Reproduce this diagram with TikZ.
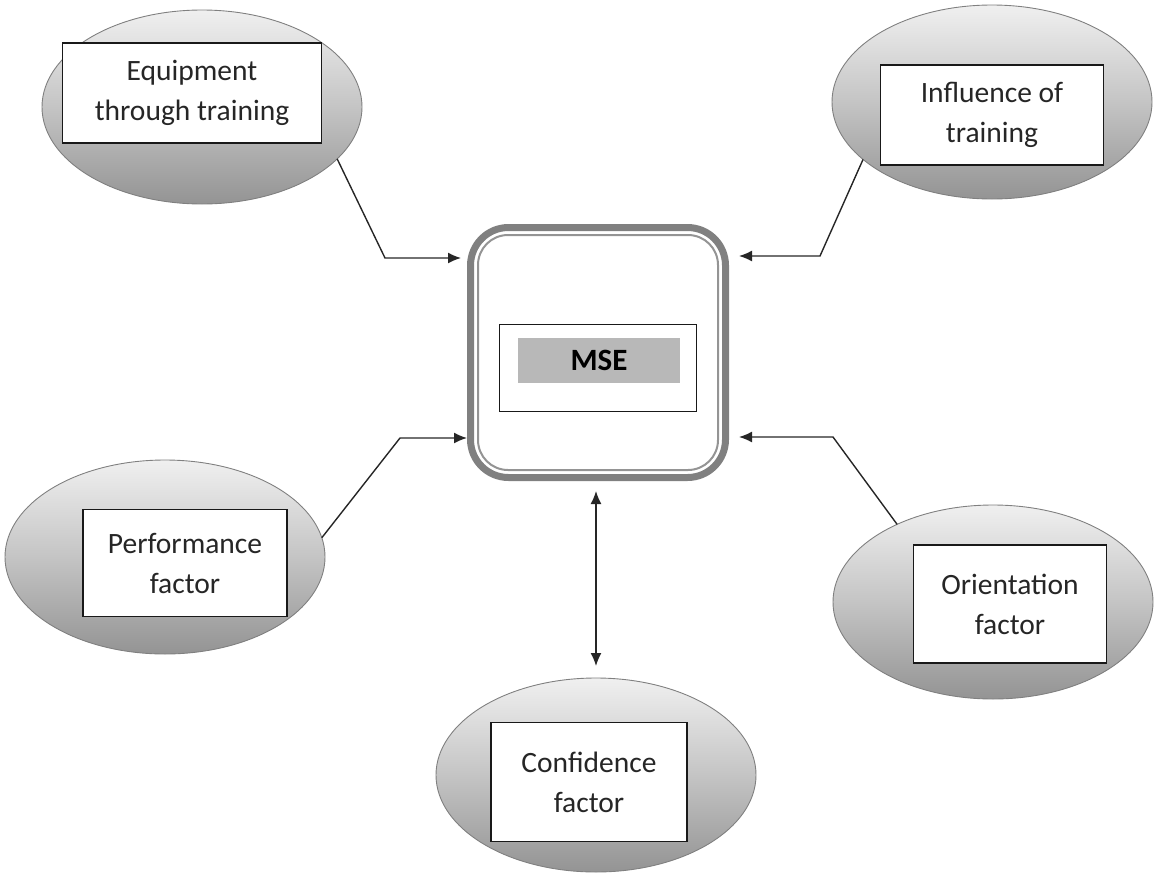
\documentclass[tikz,border=0pt]{standalone}
\usepackage{fontspec}
\setmainfont{Carlito}
\usetikzlibrary{shapes.geometric,arrows.meta,calc}
\begin{document}
\begin{tikzpicture}[x=1pt,y=-1pt,
  oval/.style={ellipse,minimum width=320pt,minimum height=194pt,inner sep=0pt,outer sep=0pt,
    draw=black!50,line width=0.9pt,top color=black!6,bottom color=black!42,middle color=black!23},
  tbox/.style={draw=black!90,fill=white,line width=1.3pt,inner sep=0pt,align=center,
    font=\fontsize{29.5}{40}\selectfont,text=black!85},
  tip/.style={Latex[length=13pt,width=11pt]},
  arr/.style={draw=black!85,line width=1.4pt,-{Latex[length=13pt,width=11pt]}},
  darr/.style={draw=black!85,line width=1.4pt,{Latex[length=13pt,width=11pt]}-{Latex[length=13pt,width=11pt]}}
]
\useasboundingbox (0,0) rectangle (1162,881);
% ellipses
\node[oval] (e1) at (202,107) {};
\node[oval] (e2) at (992,102) {};
\node[oval] (e3) at (165,557) {};
\node[oval] (e4) at (596,775) {};
\node[oval] (e5) at (993,602) {};
% text boxes
\node[tbox,minimum width=259pt,minimum height=100pt] (t1) at (192,93) {Equipment\\through training};
\node[tbox,minimum width=223pt,minimum height=100pt] (t2) at (992,115) {Influence of\\training};
\node[tbox,minimum width=204pt,minimum height=107pt] (t3) at (185,563) {Performance\\factor};
\node[tbox,minimum width=196pt,minimum height=119pt] (t4) at (589,782) {Confidence\\factor};
\node[tbox,minimum width=193pt,minimum height=118pt] (t5) at (1010,604) {Orientation\\factor};
% central frame
\node[draw=black!50,line width=7pt,rounded corners=38pt,minimum width=255pt,minimum height=250pt,
  inner sep=0pt,outer sep=3.5pt] (frame) at (598,352.5) {};
\node[draw=black!42,line width=2pt,rounded corners=30pt,minimum width=240pt,minimum height=235pt,
  inner sep=0pt] (inner) at (598,352.5) {};
\node[draw=black!90,line width=1.3pt,minimum width=197pt,minimum height=87pt,inner sep=0pt] (msebox) at (598,368) {};
\node[fill=black!28,minimum width=162pt,minimum height=45pt,inner sep=0pt,
  font=\bfseries\fontsize{31}{34}\selectfont] (mse) at (599,360) {MSE};
% bends
\coordinate (b1) at (385,258);
\coordinate (b2) at (820,256);
\coordinate (b3) at (400,438);
\coordinate (b4) at (833,437);
% connectors
\draw[arr,shorten >=6pt] (e1.-21) -- (b1) -- (b1 -| frame.west);
\draw[arr,shorten >=10pt] (e2.-156) -- (b2) -- (b2 -| frame.east);
\draw[arr] (e3.7) -- (b3) -- (b3 -| frame.west);
\draw[arr,shorten >=10pt] (e5.141) -- (b4) -- (b4 -| frame.east);
\draw[darr,shorten <=10pt,shorten >=12pt] (frame.south -| e4.north) -- (e4.north);
\end{tikzpicture}
\end{document}
